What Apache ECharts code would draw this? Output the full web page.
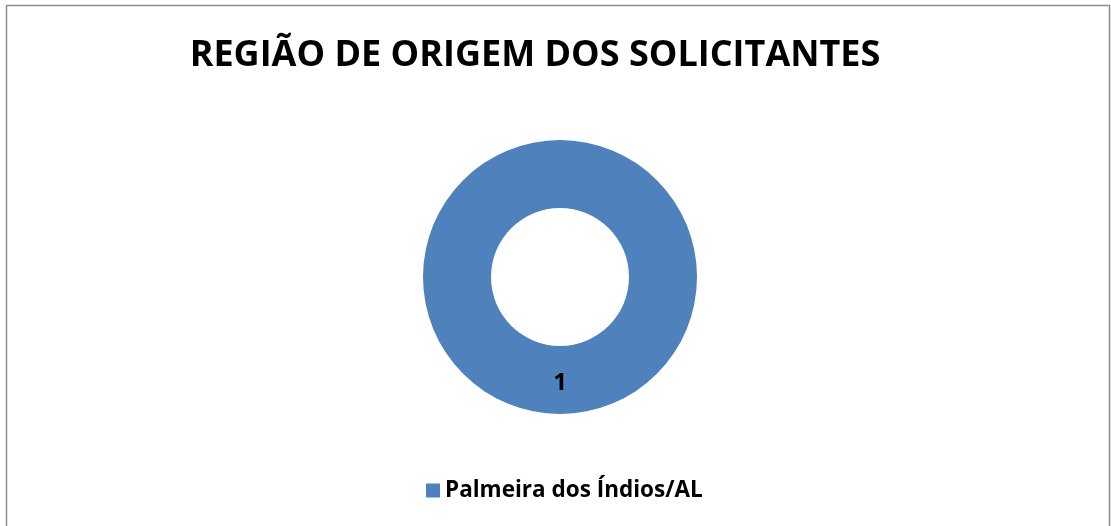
<!DOCTYPE html>
<html><head><meta charset="utf-8">
<script src="https://cdn.jsdelivr.net/npm/echarts@6/dist/echarts.min.js"></script>
<style>html,body{margin:0;padding:0;background:#fff}#c{width:1111px;height:526px}</style>
</head><body><div id="c"></div>
<script>
const titleText = 'REGIÃO DE ORIGEM DOS SOLICITANTES';
const categories = ['Palmeira dos Índios/AL'];
const values = [1];
const colors = ['#4F81BD'];

const chart = echarts.init(document.getElementById('c'), null, {renderer: 'canvas'});
chart.setOption({
  animation: false,
  backgroundColor: '#fff',
  graphic: [{
    type: 'rect', shape: {x: 6.5, y: 5.5, width: 1103, height: 540},
    style: {fill: 'none', stroke: '#8c8c8c', lineWidth: 1.5}, silent: true
  }],
  title: {
    text: titleText, left: 530, top: 33, textAlign: 'center',
    textStyle: {fontFamily: 'Open Sans', fontWeight: 'bold', fontSize: 36, color: '#000'}
  },
  legend: {
    data: categories, bottom: 19, left: 421,
    icon: 'rect', itemWidth: 14, itemHeight: 14, itemGap: 8,
    textStyle: {fontFamily: 'Open Sans', fontWeight: 'bold', fontSize: 22.5, color: '#000'}
  },
  series: [{
    type: 'pie', center: [560, 277], radius: [69, 137],
    startAngle: 90, clockwise: true,
    label: {show: true, position: 'inside', formatter: '{c}',
      fontFamily: 'Open Sans', fontWeight: 'bold', fontSize: 24, color: '#000'},
    labelLine: {show: false},
    itemStyle: {borderWidth: 0},
    emphasis: {disabled: true},
    data: categories.map((n, i) => ({name: n, value: values[i], itemStyle: {color: colors[i]}}))
  }]
});
</script></body></html>
